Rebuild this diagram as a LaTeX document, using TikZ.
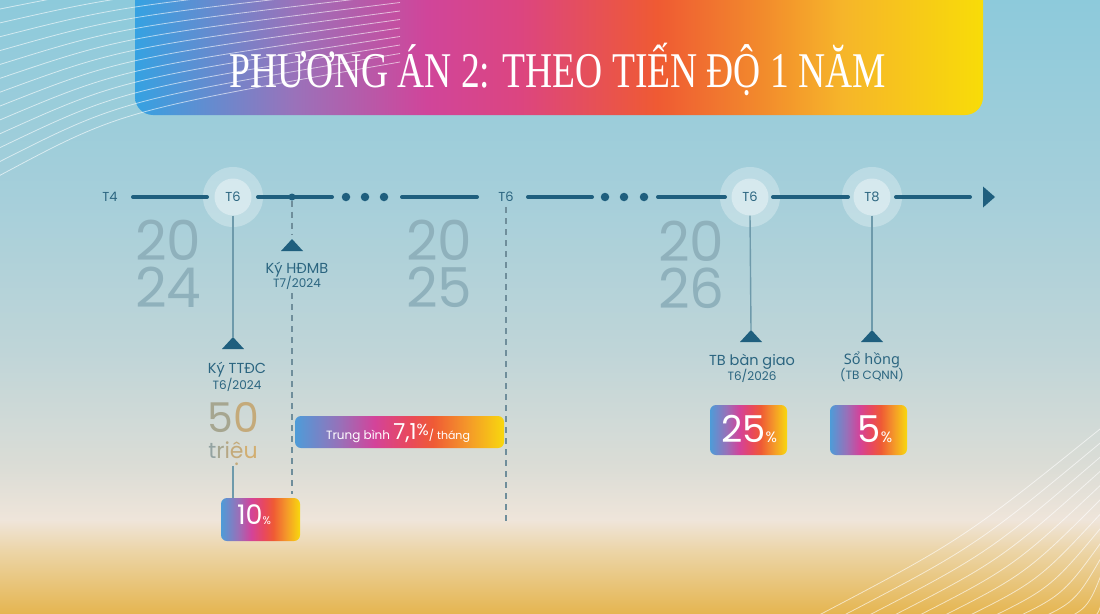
\documentclass[tikz,border=0pt]{standalone}
\usepackage{fontspec}
\usepackage{graphicx}
\setmainfont{Liberation Serif}
\newfontfamily\pop{Poppins}
\newfontfamily\nsans{Noto Sans}
\newcommand\dotbelow[1]{\ooalign{#1\cr\hidewidth\raisebox{-0.32em}{.}\hidewidth\cr}}

\definecolor{bgA}{HTML}{8DCADB}
\definecolor{bgB}{HTML}{A6CFDA}
\definecolor{bgC}{HTML}{BFD5D8}
\definecolor{bgD}{HTML}{DCDDD6}
\definecolor{bgE}{HTML}{EFE5DA}
\definecolor{bgF}{HTML}{ECD5A8}
\definecolor{bgG}{HTML}{E5B550}
\definecolor{tdark}{HTML}{1F5F7E}
\definecolor{tlabel}{HTML}{2B6580}
\definecolor{vlinec}{HTML}{6E9AAB}
\definecolor{dlinec}{HTML}{6F8E9B}
\definecolor{yearc}{HTML}{8FB1BC}
\definecolor{gc1}{HTML}{93A3A2}
\definecolor{gc2}{HTML}{A6A690}
\definecolor{gc3}{HTML}{B6A784}
\definecolor{gc4}{HTML}{C4AA7A}
\definecolor{gc5}{HTML}{D2AE70}
\definecolor{g1}{HTML}{35A2E2}
\definecolor{g2}{HTML}{9A72BA}
\definecolor{g3}{HTML}{D0459A}
\definecolor{g4}{HTML}{DC4580}
\definecolor{g5}{HTML}{EF5A33}
\definecolor{g6}{HTML}{F28A2C}
\definecolor{g7}{HTML}{F6B52A}
\definecolor{g8}{HTML}{F8DC08}
\definecolor{k1}{HTML}{4E9CD8}
\definecolor{k2}{HTML}{9A6FB8}
\definecolor{k3}{HTML}{D3439A}
\definecolor{k4}{HTML}{E8485E}
\definecolor{k5}{HTML}{EF5A35}
\definecolor{k6}{HTML}{F4962A}
\definecolor{k7}{HTML}{F8D80E}

\pgfdeclarehorizontalshading{titlegrad}{100bp}{color(0bp)=(g1); color(25bp)=(g1); color(34.4bp)=(g2); color(42.2bp)=(g3); color(47.7bp)=(g4); color(55.8bp)=(g5); color(61.9bp)=(g6); color(66.7bp)=(g7); color(75bp)=(g8); color(100bp)=(g8)}
\pgfdeclarehorizontalshading{boxgrad}{100bp}{color(0bp)=(k1); color(25bp)=(k1); color(36bp)=(k2); color(44bp)=(k3); color(52bp)=(k4); color(58bp)=(k5); color(66bp)=(k6); color(75bp)=(k7); color(100bp)=(k7)}

\begin{document}
\begin{tikzpicture}[x=1pt,y=-1pt,
  tline/.style={draw=tdark,line width=4pt,line cap=round},
  tdot/.style={circle,fill=tdark,minimum size=8.5pt,inner sep=0},
  smdot/.style={circle,fill=tdark,minimum size=7pt,inner sep=0},
  haloout/.style={circle,fill=white,fill opacity=0.28,minimum size=60pt,inner sep=0},
  haloin/.style={circle,fill=white,fill opacity=0.38,text opacity=1,minimum size=37pt,inner sep=0,font=\pop\fontsize{13}{13}\selectfont,text=tlabel},
  tlab/.style={font=\pop\fontsize{13}{13}\selectfont,text=tlabel,inner sep=1pt},
  vconn/.style={draw=vlinec,line width=1.4pt},
  dconn/.style={draw=dlinec,line width=1.3pt,dash pattern=on 6pt off 5pt},
  mainlab/.style={font=\pop\fontsize{14.5}{15}\selectfont,text=tlabel,inner sep=0,anchor=base},
  sublab/.style={font=\pop\fontsize{12}{12}\selectfont,text=tlabel,inner sep=0,anchor=base},
  year/.style={font=\pop\fontsize{55}{47}\selectfont,text=yearc,align=left,anchor=north west,inner sep=0},
  pbox/.style={shade,shading=boxgrad,rounded corners=6pt,inner sep=0},
  ptext/.style={text=white,inner sep=0,font=\pop,anchor=base},
  deco/.style={draw=white,line width=0.8pt,opacity=0.6},
  marktri/.style={fill=tdark}
]
\useasboundingbox (0,0) rectangle (1100,613);
\begin{scope}
\clip (0,0) rectangle (1100,613);
% background
\fill[top color=bgA,bottom color=bgB] (0,-1) rectangle (1100,200.5);
\fill[top color=bgB,bottom color=bgC] (0,200) rectangle (1100,350.5);
\fill[top color=bgC,bottom color=bgD] (0,350) rectangle (1100,470.5);
\fill[top color=bgD,bottom color=bgE] (0,470) rectangle (1100,520.5);
\fill[top color=bgE,bottom color=bgF] (0,520) rectangle (1100,550.5);
\fill[top color=bgF,bottom color=bgG] (0,550) rectangle (1100,614);
% banner
\shade[shading=titlegrad,rounded corners=18pt] (135,-40) rectangle (983,115);
\node[text=white,font=\fontsize{50}{50}\selectfont,inner sep=0] (title) at (558,69)
  {\scalebox{0.75}[1]{PHƯƠNG ÁN 2: THEO TIẾN ĐỘ 1 NĂM}};
% decorative curves
\foreach \i in {0,...,12}{
  \draw[deco] (-5,{10+14*\i}) .. controls (120,{-15+10.5*\i}) .. (400,{-40+8.5*\i});
}
\foreach \i in {0,...,11}{
  \draw[deco] ({800+25*\i},625) .. controls ({(800+25*\i+1105)/2+10},{(625+425+14*\i)/2+15}) .. (1105,{425+14*\i});
}
\end{scope}

% years
\node[year] (y24) at (135,220) {20\\24};
\node[year] (y25) at (406,220) {20\\25};
\node[year] (y26) at (658,221) {20\\26};

% timeline
\node[tlab] (t4) at (110,197) {T4};
\node[haloout] (o1) at (233,197) {};
\node[haloin] (h1) at (233,197) {T6};
\node[tlab] (t6m) at (506,197) {T6};
\node[haloout] (o3) at (750,197) {};
\node[haloin] (h3) at (750,197) {T6};
\node[haloout] (o4) at (872,197) {};
\node[haloin] (h4) at (872,197) {T8};

\coordinate (s1a) at (133,197); \coordinate (s1b) at (207,197);
\coordinate (s2a) at (258,197); \coordinate (s2b) at (332,197);
\coordinate (s3a) at (402,197); \coordinate (s3b) at (477,197);
\coordinate (s4a) at (528,197); \coordinate (s4b) at (592,197);
\coordinate (s5a) at (658,197); \coordinate (s5b) at (725,197);
\coordinate (s6a) at (773,197); \coordinate (s6b) at (848,197);
\coordinate (s7a) at (896,197); \coordinate (s7b) at (970,197);
\foreach \a/\b in {s1a/s1b,s2a/s2b,s3a/s3b,s4a/s4b,s5a/s5b,s6a/s6b,s7a/s7b}
  \draw[tline] (\a) -- (\b);
\node[tdot] (d1) at (346,197) {};
\node[tdot] (d2) at (365,197) {};
\node[tdot] (d3) at (384,197) {};
\node[tdot] (d4) at (605,197) {};
\node[tdot] (d5) at (624,197) {};
\node[tdot] (d6) at (644,197) {};
\node[smdot] (dm) at (292,197) {};
\coordinate (ar1) at (983,186.5); \coordinate (ar2) at (995,197); \coordinate (ar3) at (983,207.5);
\fill[tdark] (ar1) -- (ar2) -- (ar3) -- cycle;

% markers (triangle apexes)
\coordinate (A) at (233,337);
\coordinate (B) at (292,239);
\coordinate (C) at (751,330);
\coordinate (D) at (872,330);
\foreach \p in {A,B,C,D}
  \fill[marktri] (\p) -- ([shift={(-11,12)}]\p) -- ([shift={(11,12)}]\p) -- cycle;

% labels
\node[mainlab] (kA) at (237,373) {Ký TTĐC};
\node[sublab] (kAs) at (237,389) {T6/2024};
\node[mainlab] (kB) at (297,273) {Ký HĐMB};
\node[sublab] (kBs) at (297,287) {T7/2024};
\node[mainlab] (kC) at (752,365) {TB bàn giao};
\node[sublab] (kCs) at (752,380) {T6/2026};
\node[mainlab,font=\nsans\fontsize{14.5}{15}\selectfont] (kD) at (872,364) {Sổ hồng};
\node[sublab] (kDs) at (872,379) {(TB CQNN)};

\node[font=\pop\fontsize{41}{41}\selectfont,inner sep=0,anchor=base] (fifty) at (233,432) {\textcolor{gc2}{5}\textcolor{gc4}{0}};
\node[font=\pop\fontsize{22}{22}\selectfont,inner sep=0,anchor=base] (trieu) at (233,458) {\textcolor{gc1}{t}\textcolor{gc2}{r}\textcolor{gc3}{i}\textcolor{gc4}{\dotbelow{ê}}\textcolor{gc5}{u}};

% boxes
\node[pbox,minimum width=79pt,minimum height=43pt] (b1) at (260.5,519.5) {};
\node[ptext] (b1t) at (254,524) {\fontsize{27}{27}\selectfont 10\fontsize{11}{11}\selectfont\%};
\node[pbox,minimum width=209pt,minimum height=32pt] (b2) at (399.5,432) {};
\node[ptext] (b2t) at (398,439) {\fontsize{12}{12}\selectfont Trung bình \fontsize{22}{22}\selectfont 7,1\raisebox{4pt}{\fontsize{16}{16}\selectfont\%}\fontsize{11}{11}\selectfont/ tháng};
\node[pbox,minimum width=77pt,minimum height=50pt] (b3) at (748.5,430) {};
\node[ptext] (b3t) at (749,442) {\fontsize{37}{37}\selectfont 25\fontsize{15}{15}\selectfont\%};
\node[pbox,minimum width=77pt,minimum height=50pt] (b4) at (868.5,430) {};
\node[ptext] (b4t) at (875,442) {\fontsize{37}{37}\selectfont 5\fontsize{15}{15}\selectfont\%};

% connectors
\draw[vconn] (h1.south) -- (A);
\draw[vconn] (trieu.south |- 0,466) coordinate (tq) -- (tq |- b1.north);
\draw[vconn] (h3.south) -- (C);
\draw[vconn] (h4.south) -- (D);
\draw[dconn] (dm) -- ([yshift=4pt]B);
\coordinate (eh) at (292,494);
\draw[dconn] ([yshift=-4pt]kBs.south -| eh) -- (eh);
\coordinate (e6) at (506,524);
\draw[dconn] ([yshift=-4pt]t6m.south) -- (e6);
\end{tikzpicture}
\end{document}
